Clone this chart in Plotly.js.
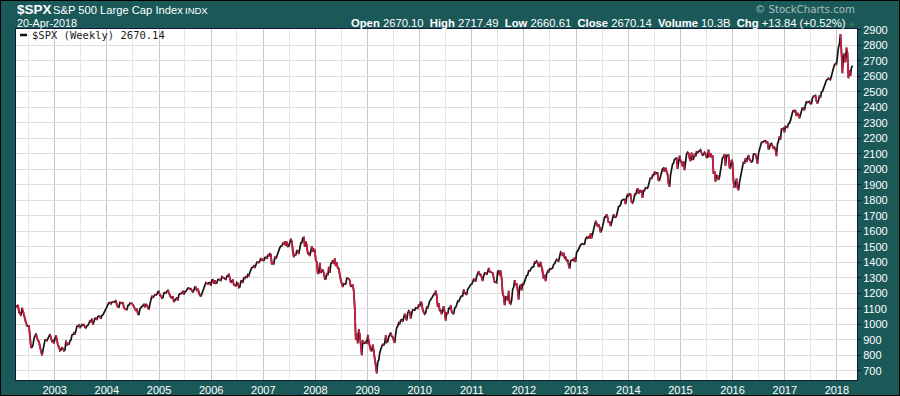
<!DOCTYPE html>
<html>
<head>
<meta charset="utf-8">
<script src="https://cdn.plot.ly/plotly-3.0.1.min.js"></script>
<style>
  html, body { margin: 0; padding: 0; background: #1b5959; }
  #chart { width: 900px; height: 396px; }
  #frame { position: absolute; left: 0; top: 0; width: 900px; height: 396px; box-sizing: border-box; border: 1px solid #000; pointer-events: none; }
</style>
</head>
<body>
<div id="chart"></div>
<div id="frame"></div>
<script>
// Weekly closes of $SPX, one array per calendar year; each array starts at the Friday in yearStarts
var yearStarts = ['2002-04-05','2003-01-03','2004-01-02','2005-01-07','2006-01-06','2007-01-05','2008-01-04','2009-01-02','2010-01-08','2011-01-07','2012-01-06','2013-01-04','2014-01-03','2015-01-02','2016-01-08','2017-01-06','2018-01-05'];

var w2002 = [1122,1111,1125,1076,1073,1054,1106,1083,1067,1027,1007,989,990,989,921,847,852,864,908,928,940,916,893,889,846,827,800,835,884,897,900,894,909,930,936,912,889,895,875];
var w2003 = [908,927,901,861,855,829,834,851,841,828,833,895,863,878,868,893,898,930,933,944,933,964,987,988,995,976,985,998,993,998,980,977,990,993,1008,1021,1018,1036,996,1029,1038,1039,1028,1050,1053,1050,1035,1058,1061,1074,1088,1095];
var w2004 = [1108,1122,1139,1141,1131,1142,1146,1145,1145,1156,1120,1110,1108,1141,1139,1135,1141,1107,1099,1096,1094,1121,1123,1136,1135,1134,1126,1112,1101,1086,1101,1064,1064,1099,1107,1113,1123,1128,1110,1131,1122,1108,1095,1130,1167,1184,1170,1182,1191,1189,1194,1210,1212];
var w2005 = [1186,1184,1168,1171,1203,1205,1201,1211,1222,1201,1190,1172,1172,1181,1143,1152,1156,1172,1154,1190,1198,1196,1201,1216,1191,1211,1212,1228,1234,1234,1226,1230,1219,1205,1218,1241,1238,1215,1229,1196,1187,1179,1198,1220,1235,1248,1268,1265,1259,1267,1268,1248];
var w2006 = [1285,1287,1261,1284,1264,1267,1288,1289,1287,1282,1307,1302,1295,1295,1289,1311,1311,1326,1291,1267,1280,1288,1253,1252,1245,1270,1265,1236,1240,1278,1280,1267,1302,1296,1311,1299,1320,1314,1336,1350,1366,1368,1377,1364,1380,1401,1400,1397,1409,1427,1410,1418];
var w2007 = [1409,1430,1431,1422,1449,1438,1456,1451,1387,1402,1386,1437,1421,1443,1452,1484,1494,1505,1505,1522,1515,1536,1507,1533,1502,1503,1530,1552,1534,1459,1433,1453,1445,1479,1473,1453,1484,1525,1527,1557,1561,1500,1535,1509,1453,1458,1440,1481,1504,1467,1484,1478];
var w2008 = [1411,1401,1325,1330,1396,1331,1349,1353,1331,1294,1288,1330,1316,1370,1332,1390,1398,1414,1389,1426,1375,1400,1361,1360,1318,1278,1263,1240,1261,1258,1260,1297,1298,1293,1283,1242,1252,1255,1213,1099,899,940,877,969,930,873,800,896,876,879,887,873];
var w2009 = [932,890,850,832,826,869,827,770,735,683,757,768,816,843,857,870,866,878,929,883,887,919,940,946,921,918,896,880,941,979,987,1010,1005,1026,1029,1016,1042,1068,1044,1025,1071,1087,1080,1036,1069,1093,1091,1091,1106,1106,1102,1127,1115];
var w2010 = [1145,1136,1092,1074,1066,1075,1109,1105,1139,1150,1160,1167,1179,1194,1192,1217,1187,1111,1136,1088,1089,1065,1092,1117,1076,1023,1078,1065,1102,1102,1121,1079,1071,1065,1104,1110,1126,1149,1146,1166,1176,1183,1183,1225,1199,1199,1189,1225,1240,1244,1257,1258];
var w2011 = [1272,1293,1284,1276,1310,1329,1343,1320,1321,1304,1279,1314,1332,1329,1320,1338,1364,1340,1338,1333,1331,1300,1271,1271,1268,1340,1344,1316,1346,1292,1199,1179,1124,1177,1174,1154,1216,1136,1131,1155,1225,1238,1285,1253,1264,1216,1159,1244,1255,1219,1265,1258];
var w2012 = [1278,1289,1315,1316,1345,1343,1362,1366,1370,1371,1404,1397,1408,1398,1370,1378,1403,1369,1353,1295,1318,1278,1325,1342,1335,1362,1354,1357,1363,1386,1391,1406,1418,1411,1407,1438,1466,1460,1441,1461,1428,1433,1411,1414,1380,1359,1409,1416,1418,1413,1430,1402];
var w2013 = [1466,1472,1486,1503,1513,1518,1520,1516,1518,1551,1561,1556,1569,1553,1588,1555,1582,1614,1633,1667,1650,1631,1643,1626,1593,1606,1632,1680,1692,1692,1710,1691,1655,1664,1633,1655,1688,1710,1692,1691,1703,1745,1760,1762,1771,1798,1805,1806,1805,1775,1818,1841];
var w2014 = [1831,1842,1839,1790,1783,1797,1838,1836,1859,1878,1841,1866,1857,1865,1815,1864,1863,1881,1878,1878,1900,1924,1949,1937,1963,1961,1985,1968,1978,1978,1925,1931,1955,1988,2003,2008,1985,2010,1982,1968,1906,1887,1965,2018,2032,2040,2064,2068,2076,2003,2071,2089];
var w2015 = [2058,2045,2019,2051,1995,2055,2097,2110,2105,2071,2053,2108,2061,2067,2102,2081,2117,2108,2116,2123,2126,2107,2092,2094,2110,2102,2077,2077,2127,2079,2104,2078,2092,1971,1989,1921,1961,1958,1931,1951,2015,2033,2075,2079,2099,2023,2089,2090,2092,2012,2006,2061,2044];
var w2016 = [1922,1880,1907,1940,1880,1865,1918,1948,2000,2022,2050,2036,2073,2048,2081,2092,2065,2057,2047,2052,2099,2099,2096,2071,2037,2103,2130,2162,2175,2174,2183,2184,2184,2169,2180,2128,2139,2165,2168,2153,2133,2141,2126,2085,2164,2182,2213,2192,2260,2258,2264,2239];
var w2017 = [2277,2275,2271,2295,2297,2316,2351,2367,2383,2373,2378,2344,2363,2355,2329,2349,2384,2399,2391,2382,2416,2439,2432,2433,2438,2423,2425,2459,2473,2472,2477,2441,2426,2443,2477,2461,2500,2502,2519,2549,2553,2575,2581,2588,2582,2579,2602,2642,2652,2675,2683,2674];
var w2018 = [2743,2786,2810,2873,2762,2620,2732,2747,2691,2786,2752,2588,2641,2604,2656,2670.14];

var yearData = [w2002,w2003,w2004,w2005,w2006,w2007,w2008,w2009,w2010,w2011,w2012,w2013,w2014,w2015,w2016,w2017,w2018];

var yTicks = [700,800,900,1000,1100,1200,1300,1400,1500,1600,1700,1800,1900,2000,2100,2200,2300,2400,2500,2600,2700,2800,2900];

// build dates (weekly Fridays within each year)
var dates = [], closes = [];
function iso(d){ return d.toISOString().slice(0,10); }
yearData.forEach(function(arr, k){
  var d0 = new Date(yearStarts[k] + 'T00:00:00Z');
  arr.forEach(function(v, i){
    var d = new Date(d0.getTime() + i*7*86400000);
    dates.push(iso(d)); closes.push(v);
  });
});

// down-week segments in red over a continuous black line
var rx = [], ry = [];
for (var i = 1; i < closes.length; i++) {
  if (closes[i] < closes[i-1]) {
    rx.push(dates[i-1], dates[i], null);
    ry.push(closes[i-1], closes[i], null);
  }
}

var W = 900, H = 396, L = 16, R = 43, T = 29, B = 16;
var PW = W - L - R, PH = H - T - B;
function px(x){ return (x - L) / PW; }
function py(y){ return 1 - (y - T) / PH; }

var traces = [
  { x: dates, y: closes, type: 'scatter', mode: 'lines', line: { color: '#141414', width: 1.7 }, hoverinfo: 'skip', showlegend: false },
  { x: rx, y: ry, type: 'scatter', mode: 'lines', line: { color: '#d11c42', width: 1.7 }, connectgaps: false, hoverinfo: 'skip', showlegend: false }
];

var white = '#ffffff';
var ann = [
  { text: '<b>$SPX</b>', x: px(15), y: py(10), xanchor: 'left', yanchor: 'middle', font: { family: 'Liberation Sans, Arial', size: 13.5, color: white } },
  { text: 'S&P 500 Large Cap Index', x: px(51), y: py(10), xanchor: 'left', yanchor: 'middle', font: { family: 'Liberation Sans, Arial', size: 11.2, color: white } },
  { text: 'INDX', x: px(183), y: py(10.5), xanchor: 'left', yanchor: 'middle', font: { family: 'Liberation Sans, Arial', size: 9.5, color: white } },
  { text: '20-Apr-2018', x: px(15), y: py(23), xanchor: 'left', yanchor: 'middle', font: { family: 'Liberation Sans, Arial', size: 10.8, color: white } },
  { text: '\u00A9 StockCharts.com', x: px(857), y: py(9.5), xanchor: 'right', yanchor: 'middle', font: { family: 'DejaVu Sans, Verdana', size: 10.2, color: '#a9bdbd' } },
  { text: '<b>Open</b> 2670.10  <b>High</b> 2717.49  <b>Low</b> 2660.61  <b>Close</b> 2670.14  <b>Volume</b> 10.3B  <b>Chg</b> +13.84 (+0.52%)', x: px(848), y: py(23), xanchor: 'right', yanchor: 'middle', font: { family: 'Liberation Sans, Arial', size: 11.25, color: white } },
  { text: '\u25B2', x: px(852.5), y: py(22.5), xanchor: 'center', yanchor: 'middle', font: { family: 'DejaVu Sans', size: 6, color: '#2f7f45' } },
  { text: '$SPX (Weekly) 2670.14', x: px(30), y: py(35), xanchor: 'left', yanchor: 'middle', font: { family: 'DejaVu Sans Mono, monospace', size: 10.5, color: '#1a1a1a' } }
];

var layout = {
  width: W, height: H,
  margin: { l: L, r: R, t: T, b: B, pad: 0 },
  paper_bgcolor: '#1b5959',
  plot_bgcolor: '#ffffff',
  showlegend: false,
  xaxis: {
    type: 'date',
    range: ['2002-04-05', '2018-05-22'],
    tick0: '2003-01-01', dtick: 'M12', tickformat: '%Y',
    showgrid: true, gridcolor: '#c6c6c6', gridwidth: 1,
    minor: { dtick: 'M6', tick0: '2003-01-01', showgrid: true, gridcolor: '#e6e6e6', gridwidth: 1 },
    ticks: '', zeroline: false,
    showline: true, mirror: true, linecolor: '#0f1a38', linewidth: 1,
    tickfont: { family: 'Liberation Sans, Arial', size: 11, color: white },
    fixedrange: true
  },
  yaxis: {
    side: 'right',
    range: [640, 2906],
    tickmode: 'array', tickvals: yTicks, ticktext: yTicks.map(String),
    showgrid: true, gridcolor: '#dedede', gridwidth: 1,
    ticks: 'outside', ticklen: 3, tickcolor: '#0f1a38',
    zeroline: false,
    showline: true, mirror: true, linecolor: '#0f1a38', linewidth: 1,
    tickfont: { family: 'Liberation Sans, Arial', size: 11, color: white },
    fixedrange: true
  },
  annotations: ann.map(function(a){ a.xref = 'paper'; a.yref = 'paper'; a.showarrow = false; return a; }),
  shapes: [
    { type: 'line', xref: 'paper', yref: 'paper', x0: px(20), x1: px(27), y0: py(35), y1: py(35), line: { color: '#111', width: 2.5 } }
  ]
};

Plotly.newPlot('chart', traces, layout, { staticPlot: true, displayModeBar: false });
</script>
</body>
</html>
